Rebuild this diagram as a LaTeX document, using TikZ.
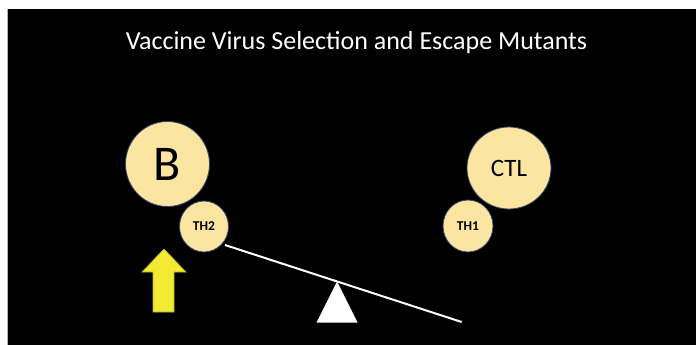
\documentclass[tikz,border=0pt]{standalone}
\usepackage{fontspec}
\setmainfont{Carlito}
\usetikzlibrary{shapes.geometric}
\definecolor{cellfill}{HTML}{FCE5A0}
\definecolor{celledge}{HTML}{34466E}
\definecolor{arrowyellow}{HTML}{F2EA35}
\definecolor{arrowedge}{HTML}{B8AE20}
\tikzset{
  cell/.style={ellipse, fill=cellfill, draw=celledge, line width=0.8pt, inner sep=0pt, text=black},
  bigcell/.style={cell, minimum width=84pt, minimum height=85pt},
  smallcell/.style={cell, minimum width=49pt, minimum height=51pt, font=\fontsize{13.5}{13.5}\selectfont\bfseries},
  beam/.style={white, line width=2pt},
}
\begin{document}
\begin{tikzpicture}[x=1pt,y=-1pt]
\useasboundingbox (0,0) rectangle (696,345);
\fill[white] (0,0) rectangle (696,345);
\fill[black] (7,9) rectangle (696,345);
\draw[gray!60, line width=0.8pt] (7,9) -- (7,345);
\node[text=white, font=\fontsize{26}{26}\selectfont] (title) at (356.5,43) {Vaccine Virus Selection and Escape Mutants};
\node[bigcell, font=\fontsize{50}{50}\selectfont] (B) at (167.5,164) {B};
\node[smallcell] (th2) at (204,226.5) {TH2};
\node[bigcell, minimum height=82pt, font=\fontsize{25}{25}\selectfont] (ctl) at (509,168) {CTL};
\node[smallcell, minimum width=50pt, minimum height=52pt] (th1) at (468,226) {TH1};
\coordinate (beamL) at (225,245);
\coordinate (beamR) at (461.7,322);
\draw[beam] (beamL) -- (beamR);
\fill[white] (337,281.5) -- (357.5,322.5) -- (316.5,322.5) -- cycle;
\draw[fill=arrowyellow, draw=arrowedge, line width=0.6pt]
  (164,249) -- (186,272) -- (174,272) -- (174,312) -- (153,312) -- (153,272) -- (142,272) -- cycle;
\end{tikzpicture}
\end{document}
